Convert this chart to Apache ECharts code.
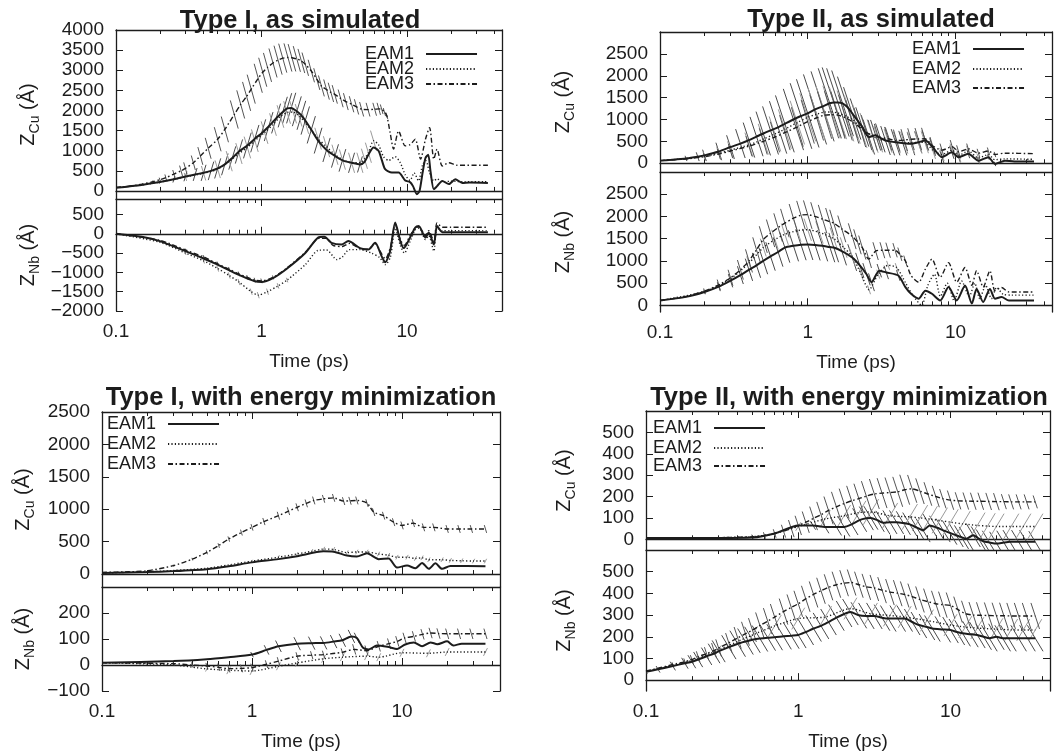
<!DOCTYPE html>
<html><head><meta charset="utf-8">
<script src="https://cdn.jsdelivr.net/npm/echarts@6/dist/echarts.min.js"></script>
<style>html,body{margin:0;background:#fff}#c{width:1057px;height:756px}</style>
</head><body><div id="c"></div>
<script>
const FONT = '"Liberation Sans", Arial, Helvetica, sans-serif';
const seriesNames = ['EAM1', 'EAM2', 'EAM3'];
const timeTickLabels = [0.1, 1, 10];
const timeMinorTicks = [0.2,0.3,0.4,0.5,0.6,0.7,0.8,0.9,2,3,4,5,6,7,8,9,20,30,40];
// Each point: [time (ps), Z (Å), error half-width (Å, optional)]

// ---- Panel 1: Type I, as simulated ----
const p1CuTicks = [0,500,1000,1500,2000,2500,3000,3500,4000];
const p1NbTicks = [-2000,-1500,-1000,-500,0,500];
const p1CuEAM1 = [[0.1,80],[0.15,150],[0.2,220,40],[0.25,290,80],[0.3,360,120],[0.35,410,160],[0.4,450,200],[0.45,500,230],[0.5,560,250],[0.56,660,270],[0.63,820,290],[0.7,980,300],[0.8,1130,320],[0.9,1300,340],[1.0,1430,350],[1.12,1600,360],[1.26,1800,370],[1.4,1960,380],[1.5,2050,380],[1.6,2060,380],[1.75,1980,370],[1.88,1880,360],[2.0,1750,350],[2.2,1520,340],[2.45,1250,320],[2.8,1020,300],[3.2,870,290],[3.6,760,280],[4.16,700,250],[4.75,660,200],[5.1,720],[5.43,900],[5.89,1080],[6.37,1000],[6.7,780],[7.08,540],[7.87,460],[8.76,460],[9.73,260],[10.5,220],[11.0,120],[11.7,-80],[12.2,0],[12.8,450],[13.4,820],[14.0,900],[14.5,500],[15.3,40],[16.1,120],[17.5,250],[19.4,170],[21.5,290],[24,200],[27,210],[36,200]];
const p1CuEAM2 = [[0.1,80],[0.15,150],[0.2,220],[0.3,350,100],[0.4,440,180],[0.5,540,220],[0.6,740,250],[0.7,930,260],[0.8,1080,270],[0.9,1250,280],[1.05,1450,280],[1.2,1650,280],[1.35,1850,280],[1.5,1950,280],[1.65,1960,280],[1.8,1880,280],[2.0,1700,280],[2.45,1300,270],[2.8,1100,260],[3.2,900,250],[3.6,780,250],[4.16,700,250],[4.75,700,250],[5.1,800,250],[5.43,950,250],[5.89,1250,250],[6.37,1150],[6.9,850],[7.5,760],[8.3,850],[9.0,700],[9.73,400],[10.5,260],[11.2,450],[12.0,250],[12.8,650],[13.5,750],[14.3,450],[15.3,250],[16.1,300],[17.5,230],[20,240],[25,230],[36,230]];
const p1CuEAM3 = [[0.1,90],[0.12,110],[0.15,170],[0.18,230,30],[0.2,280,50],[0.22,330,80],[0.25,420,100],[0.28,500,130],[0.3,560,150],[0.34,700,180],[0.38,870,220],[0.43,1060,260],[0.5,1285,300],[0.56,1530,320],[0.65,1900,350],[0.72,2150,350],[0.79,2350,360],[0.85,2530,360],[0.95,2800,360],[1.02,2950,360],[1.1,3070,360],[1.2,3180,360],[1.3,3250,360],[1.4,3300,360],[1.52,3317,350],[1.62,3310,340],[1.75,3280,320],[1.88,3230,300],[2.0,3150,290],[2.2,2980,280],[2.4,2780,270],[2.58,2610,260],[2.8,2520,250],[3.0,2450,240],[3.19,2400,230],[3.5,2300,220],[3.8,2220,210],[4.16,2155,200],[4.5,2090,190],[4.88,2030,180],[5.4,2020,170],[6.0,2030,160],[6.4,2040,150],[6.7,2030,120],[7.0,1960,100],[7.27,1870,80],[7.66,1450],[8.09,1040],[8.76,1490],[9.73,1120],[10.5,1150],[11.4,1285],[12.4,790],[13.4,1285],[14.3,1575],[15.3,790],[16.1,1040],[17.5,620],[19.4,700],[22,640],[36,640]];
const p1NbEAM1 = [[0.1,0],[0.15,-80],[0.2,-190],[0.3,-450],[0.4,-640],[0.5,-800],[0.7,-1065],[0.9,-1230],[1.0,-1250],[1.2,-1150],[1.5,-900],[2.0,-500],[2.45,-100],[2.7,-80],[3.03,-235],[3.55,-280],[3.95,-190],[4.75,-370],[5.43,-410],[6.04,-235],[6.7,-585],[7.08,-740],[7.66,-450],[8.3,290],[9.0,-190],[9.5,-370],[10.5,-100],[11.4,160],[12.05,200],[13.4,-100],[14.1,30],[15.3,-280],[16.1,200],[17.5,40],[20,40],[36,40]];
const p1NbEAM2 = [[0.1,0],[0.2,-220],[0.3,-500,50],[0.4,-700,70],[0.5,-900,80],[0.6,-1080,80],[0.7,-1250,80],[0.85,-1500,80],[0.95,-1590,80],[1.1,-1500,80],[1.3,-1350,70],[1.5,-1200,60],[2.0,-800],[2.45,-430],[2.8,-420],[3.3,-670],[3.6,-600],[4.0,-410],[4.75,-410],[5.7,-500],[6.5,-620],[7.1,-800],[7.7,-600],[8.3,150],[9.0,-300],[9.6,-500],[10.5,-200],[11.4,100],[12.1,150],[13.4,-150],[14.1,-50],[15.3,-450],[16.1,150],[17.5,80],[20,80],[36,80]];
const p1NbEAM3 = [[0.1,0],[0.2,-170],[0.3,-420,40],[0.4,-600,50],[0.5,-780,60],[0.6,-920,60],[0.7,-1040,60],[0.8,-1130,60],[0.9,-1200,60],[1.0,-1220,60],[1.2,-1130,50],[1.5,-880],[2.0,-480],[2.5,-120],[2.8,-120],[3.1,-300],[3.6,-330],[4.0,-250],[4.75,-380],[5.4,-400],[6.0,-250],[6.7,-520],[7.1,-650],[7.7,-350],[8.3,250],[9.0,-150],[9.6,-300],[10.5,-50],[11.4,150],[12.1,180],[13.4,-50],[14.1,80],[15.3,-200],[16.1,280],[17.5,170],[20,170],[36,170]];

// ---- Panel 2: Type II, as simulated ----
const p2CuTicks = [0,500,1000,1500,2000,2500];
const p2NbTicks = [0,500,1000,1500,2000,2500];
const p2CuEAM1 = [[0.1,60],[0.12,80,20],[0.15,110,60],[0.18,150,100],[0.2,180,130],[0.25,270,200],[0.3,370,270],[0.35,450,330],[0.4,530,400],[0.45,610,450],[0.5,680,500],[0.56,750,550],[0.63,820,600],[0.7,900,650],[0.8,1000,700],[0.9,1080,750],[1.0,1140,780],[1.12,1230,800],[1.26,1300,800],[1.41,1370,800],[1.5,1390,800],[1.6,1390,780],[1.72,1370,750],[1.86,1280,700],[2.0,1140,600],[2.17,980,500],[2.34,830,450],[2.59,600,400],[2.88,640,350],[3.1,580,330],[3.36,520,330],[3.6,500,320],[3.93,480,300],[4.4,460,280],[5.0,445,260],[5.6,480,250],[6.25,520,230],[7.0,370,200],[8.1,140,150],[9.45,250,150],[10.5,140,120],[12.2,215,100],[14.3,60,80],[16.7,140,60],[18.5,-15,50],[21.6,60],[25,40],[34,40]];
const p2CuEAM2 = [[0.1,60],[0.15,105,50],[0.2,160,100],[0.25,230,150],[0.3,300,200],[0.4,420,280],[0.5,550,350],[0.6,670,400],[0.7,780,450],[0.85,930,500],[1.0,1050,550],[1.15,1120,580],[1.3,1170,600],[1.45,1170,600],[1.6,1150,600],[1.8,1080,580],[2.0,1000,550],[2.25,850,500],[2.5,700,450],[2.75,620,380],[3.0,550,300],[3.5,510,270],[4.0,480,250],[4.5,470,250],[5.0,470,250],[5.6,475,250],[6.2,480,250],[7.0,300,200],[8.1,200,150],[9.5,300,150],[10.5,180,150],[12.2,280,120],[14.3,120,100],[16.7,200,80],[18.5,80],[21.6,100],[34,90]];
const p2CuEAM3 = [[0.1,60],[0.15,100,40],[0.2,150,80],[0.25,210,120],[0.3,280,160],[0.4,390,230],[0.5,500,300],[0.6,600,350],[0.7,700,400],[0.85,830,450],[1.0,950,500],[1.15,1040,520],[1.3,1100,540],[1.45,1110,540],[1.6,1100,540],[1.8,1040,520],[2.0,950,500],[2.25,820,450],[2.5,700,400],[2.75,640,350],[3.0,600,300],[3.5,560,270],[4.0,520,250],[4.5,530,250],[5.0,550,250],[5.6,555,250],[6.2,560,250],[7.0,400,200],[8.1,300,150],[9.5,380,150],[10.5,260,150],[12.2,330,120],[14.3,230,100],[16.7,280,80],[18.5,200,60],[21.6,230],[34,220]];
const p2NbEAM1 = [[0.1,110],[0.15,190],[0.2,300,50],[0.25,420,100],[0.3,555,150],[0.35,680,200],[0.4,800,250],[0.45,900,280],[0.5,1000,300],[0.56,1100,320],[0.63,1200,330],[0.7,1300,340],[0.8,1340,350],[0.9,1365,350],[1.0,1370,350],[1.12,1360,350],[1.26,1340,350],[1.41,1310,340],[1.5,1300,330],[1.7,1220,320],[2.0,1075,300],[2.25,900,280],[2.5,700,250],[2.7,520,200],[3.05,780,150],[3.4,740,150],[4.1,670,120],[4.58,410],[5.0,260],[5.63,150],[6.25,330],[6.93,260],[7.88,110],[8.97,410],[10.2,110],[11.6,445],[12.9,40],[13.9,370],[15.4,75],[17.1,370],[18.5,150],[20.5,185],[23,110],[34,110]];
const p2NbEAM2 = [[0.1,110],[0.2,310],[0.3,600,100],[0.4,950,150],[0.5,1300,200],[0.6,1480,220],[0.7,1600,240],[0.85,1680,250],[1.0,1700,250],[1.2,1640,250],[1.5,1500,250],[1.75,1300,230],[2.0,1100,200],[2.3,700,150],[2.6,350,100],[3.0,700,100],[3.5,900,100],[4.0,850,100],[4.6,500],[5.2,200],[5.9,0],[6.5,450],[7.2,700],[7.9,200],[8.8,500],[9.8,100],[11,550],[12.4,200],[13.5,500],[14.6,150],[16,450],[17.5,150],[19,400],[21,250],[24,230],[34,230]];
const p2NbEAM3 = [[0.1,110],[0.15,200],[0.2,320,60],[0.25,460,120],[0.3,620,180],[0.35,800,220],[0.4,1000,260],[0.45,1250,280],[0.5,1480,300],[0.56,1620,310],[0.63,1750,320],[0.7,1850,320],[0.8,1960,320],[0.9,2030,320],[1.0,2040,320],[1.12,2000,320],[1.26,1940,320],[1.41,1880,310],[1.5,1850,300],[1.7,1720,300],[2.0,1555,290],[2.17,1430,280],[2.34,1300,270],[2.59,1040,200],[2.88,1220,200],[3.2,1240,180],[3.5,1240,170],[3.9,1240,160],[4.2,1150,150],[4.58,1000,120],[5.0,670],[5.63,520],[6.25,815],[6.93,1040],[7.88,630],[8.97,960],[10.2,520],[11.6,850],[12.9,450],[13.9,780],[15.4,410],[17.1,780],[18.5,330],[20.5,400],[23,300],[34,300]];

// ---- Panel 3: Type I, with energy minimization ----
const p3CuTicks = [0,500,1000,1500,2000,2500];
const p3NbTicks = [-100,0,100,200];
const p3CuEAM1 = [[0.1,15],[0.2,30],[0.3,45],[0.5,75],[0.7,120],[1.0,180],[1.5,230],[2.0,275],[3.0,350],[3.5,345],[4.3,285],[5.0,270],[5.84,320],[6.98,230],[8.14,240],[9.26,100],[10.8,130],[12.3,90],[13.6,170],[15.1,80],[16.7,165],[18.5,80],[21,125],[36,120]];
const p3CuEAM2 = [[0.1,15],[0.2,35],[0.3,55],[0.5,90],[0.7,140],[1.0,200,20],[1.5,260,30],[2.0,310,30],[2.5,350,35],[3.0,385,35],[3.5,380,35],[4.3,330,35],[5.0,340,35],[5.84,340,35],[6.98,310,35],[8.14,290,35],[9.26,260,35],[10.8,260,35],[12.3,240,35],[13.6,250,35],[15.1,220,35],[18.5,220,35],[21,210,35],[25,205,35],[30,200,35],[36,200,35]];
const p3CuEAM3 = [[0.1,25],[0.15,35],[0.2,50],[0.3,130,15],[0.4,230,20],[0.5,335,30],[0.6,440,35],[0.7,540,40],[0.85,640,45],[1.0,720,50],[1.2,810,55],[1.5,900,60],[1.75,970,60],[2.0,1030,60],[2.3,1090,60],[2.58,1135,60],[3.0,1160,60],[3.5,1175,60],[4.08,1125,60],[4.5,1130,60],[5.0,1135,60],[5.84,1095,60],[6.47,955,60],[7.54,900,60],[8.79,800,60],[10,750,60],[11.9,785,60],[13.9,720,60],[16.3,720,60],[20,695,60],[24,695,60],[29,695,60],[36,695,60]];
const p3NbEAM1 = [[0.1,9],[0.3,15],[0.5,22],[0.7,30],[1.0,40,10],[1.25,58,18],[1.5,72,22],[2.0,82,25],[2.5,84,25],[3.0,85,25],[3.5,90,25],[4.0,95,25],[4.6,110,25],[5.0,104,20],[5.5,66],[6.0,60],[6.8,75],[8.0,70],[9.3,62],[10.4,78],[12.0,87],[13.6,72],[15.5,87],[17.2,80],[20,91],[22,75],[25,82],[36,82]];
const p3NbEAM2 = [[0.1,9],[0.3,0],[0.5,-15,10],[0.7,-20,15],[1.0,-23,15],[1.5,-5,15],[2.0,8,15],[3.0,24,15],[4.0,30,15],[5.8,34,15],[7.0,30,15],[10,47,15],[15,45,15],[20,50,15],[36,50,15]];
const p3NbEAM3 = [[0.1,9],[0.3,5,8],[0.4,0,10],[0.5,-4,12],[0.6,-9,14],[0.7,-14,15],[0.85,-13,15],[1.0,-10,15],[1.25,3,15],[1.5,15,15],[2.0,34,15],[2.5,38,15],[3.0,40,15],[4.0,49,15],[4.8,60,20],[5.8,55,20],[7.0,72,20],[8.2,82,20],[9.3,91,20],[10.4,104,20],[12.0,110,20],[13.7,118,20],[15.5,123,20],[17.5,121,20],[20,120,20],[24,120,20],[29,120,20],[36,120,20]];

// ---- Panel 4: Type II, with energy minimization ----
const p4CuTicks = [0,100,200,300,400,500];
const p4NbTicks = [0,100,200,300,400,500];
const p4CuEAM1 = [[0.1,6],[0.3,6],[0.5,8],[0.7,27],[1.0,65],[1.25,65,20],[1.5,58,30],[1.78,58,40],[2.0,58,45],[2.24,70,50],[2.53,90,55],[2.8,98,55],[3.0,100,55],[3.3,90,55],[3.6,78,55],[4.0,80,55],[4.42,80,55],[4.9,76,55],[5.4,70,55],[6.0,55,55],[6.6,42,55],[7.31,65,55],[8.1,55,55],[8.94,42,55],[9.9,30,55],[10.9,19,55],[11.8,10,55],[12.7,3,55],[14.1,19,55],[15.2,5,55],[16.4,-9,55],[18,-15,55],[20.1,-20,55],[22.4,-15,55],[24.6,-12,55],[28,-12,55],[31.6,-12,55],[36,-12,50]];
const p4CuEAM2 = [[0.1,8],[0.3,8],[0.5,12],[0.7,27],[1.0,60,20],[1.5,95,40],[2.0,110,50],[2.5,125,55],[3.0,128,60],[4.0,110,60],[5.4,105,60],[6.3,100,60],[7.3,95,60],[8.5,88,60],[10,80,60],[12,72,60],[15,65,60],[17.5,62,60],[20,60,60],[25,60,60],[30,60,60],[36,60,60]];
const p4CuEAM3 = [[0.1,8],[0.3,8],[0.5,12,10],[0.6,18,15],[0.7,27,20],[0.8,38,30],[0.9,50,40],[1.0,65,45],[1.12,80,50],[1.26,98,55],[1.41,115,60],[1.58,135,65],[1.78,152,70],[2.0,167,70],[2.24,180,70],[2.5,190,70],[2.8,202,70],[3.16,212,70],[3.55,216,70],[4.0,219,70],[4.5,222,70],[5.0,232,70],[5.6,236,65],[6.3,225,60],[7.1,212,55],[8.0,200,50],[8.9,190,45],[10,183,45],[11.2,180,40],[12.6,179,40],[14.1,178,40],[15.8,178,40],[17.8,177,40],[20,176,40],[22.4,176,35],[25,175,35],[28,175,35],[31.6,175,35],[36,175,30]];
const p4NbEAM1 = [[0.1,39,10],[0.12,50,15],[0.15,65,20],[0.18,78,25],[0.2,85,30],[0.22,95,35],[0.25,110,40],[0.28,123,45],[0.3,133,50],[0.35,152,55],[0.4,168,60],[0.45,178,60],[0.5,186,60],[0.56,192,60],[0.63,196,60],[0.7,198,60],[0.8,202,60],[0.9,205,60],[1.0,208,60],[1.12,222,60],[1.26,238,60],[1.41,250,60],[1.58,268,60],[1.78,288,60],[2.0,305,60],[2.2,314,60],[2.5,299,60],[2.8,296,60],[3.16,296,60],[3.55,288,60],[3.9,284,60],[4.5,284,60],[5.0,284,60],[5.6,268,60],[6.2,254,60],[7.0,245,60],[7.6,238,60],[8.9,234,60],[10,231,60],[11,222,60],[12,216,60],[13.5,212,60],[15,208,60],[16.5,200,60],[18,193,60],[20,200,60],[22,193,60],[24,193,60],[28,193,60],[32,193,60],[36,193,60]];
const p4NbEAM2 = [[0.1,40],[0.2,90],[0.3,140,20],[0.5,208,40],[0.7,250,50],[1.0,284,50],[1.5,291,50],[2.2,330,50],[3.0,306,50],[4.0,298,50],[5.0,291,50],[7.0,275,50],[10,254,50],[12.5,245,50],[15,240,50],[20,235,50],[25,232,50],[30,231,50],[36,231,50]];
const p4NbEAM3 = [[0.1,42],[0.12,55],[0.15,72,10],[0.18,85,15],[0.2,95,20],[0.22,108,25],[0.25,122,30],[0.28,136,35],[0.3,148,40],[0.35,172,45],[0.4,195,50],[0.45,214,55],[0.5,231,55],[0.56,252,60],[0.63,272,60],[0.7,291,60],[0.8,316,60],[0.9,335,60],[1.0,352,60],[1.12,375,60],[1.26,395,60],[1.41,412,60],[1.58,428,60],[1.78,440,60],[2.0,447,60],[2.24,450,60],[2.5,440,60],[2.8,430,60],[3.16,425,60],[3.55,415,60],[4.0,406,60],[4.5,401,60],[5.0,395,60],[5.6,385,60],[6.3,372,60],[7.1,362,60],[8.0,352,60],[8.9,348,60],[10,344,60],[11.2,325,60],[12.6,306,60],[14.1,300,60],[15.8,299,60],[17.8,298,60],[20,297,60],[22.4,297,60],[25,296,60],[28,296,60],[31.6,296,60],[36,296,60]];

const panels = [
  {title:'Type I, as simulated', tx:295, ty:3, left:116, width:386, cuTop:30, cuH:169, nbH:112,
   cuRange:[-200,4000], nbRange:[-2000,900], cuTicks:p1CuTicks, nbTicks:p1NbTicks, nameGap:74,
   legendLeft:365, legendTops:[45,60,75], slant:[-0.3,0.3,0.28], cu:[p1CuEAM1,p1CuEAM2,p1CuEAM3], nb:[p1NbEAM1,p1NbEAM2,p1NbEAM3]},
  {title:'Type II, as simulated', tx:866, ty:2, left:660, width:392, cuTop:32, cuH:140, nbH:140,
   cuRange:[-200,3000], nbRange:[-150,3000], cuTicks:p2CuTicks, nbTicks:p2NbTicks, nameGap:83,
   legendLeft:912, legendTops:[40,60,79], slant:[0.33,0.33,0.3], cu:[p2CuEAM1,p2CuEAM2,p2CuEAM3], nb:[p2NbEAM1,p2NbEAM2,p2NbEAM3]},
  {title:'Type I, with energy minimization', tx:296, ty:380, left:102, width:398, cuTop:412, cuH:175, nbH:104,
   cuRange:[-200,2500], nbRange:[-100,300], cuTicks:p3CuTicks, nbTicks:p3NbTicks, nameGap:65,
   legendLeft:107, legendTops:[415,435,455], slant:[0.5,-0.5,0.3], cu:[p3CuEAM1,p3CuEAM2,p3CuEAM3], nb:[p3NbEAM1,p3NbEAM2,p3NbEAM3]},
  {title:'Type II, with energy minimization', tx:844, ty:380, left:646, width:404, cuTop:411, cuH:139, nbH:141,
   cuRange:[-50,600], nbRange:[-50,600], cuTicks:p4CuTicks, nbTicks:p4NbTicks, nameGap:68,
   legendLeft:653, legendTops:[419,439,457], slant:[0.6,-0.6,0.33], cu:[p4CuEAM1,p4CuEAM2,p4CuEAM3], nb:[p4NbEAM1,p4NbEAM2,p4NbEAM3]}
];

const INK = '#1c1c1c';
const hatchColors = ['#4a4a4a', '#9a9a9a', '#555555'];
const lineStyles = [
  {color:INK, width:2, type:'solid'},
  {color:INK, width:1.4, type:[1.2,2.2]},
  {color:INK, width:1.4, type:[5,2.5,1.5,2.5]}
];
const fmtY = v => (v < 0 ? '\u2212' + (-v) : String(v));
const nameRich = {
  z: {fontSize:20, fontFamily:FONT, color:INK, lineHeight:28},
  s: {fontSize:14, fontFamily:FONT, color:INK, lineHeight:14, verticalAlign:'bottom'}
};

function hatchRenderer(slant, color) {
  return function (params, api) {
    const e = api.value(2);
    if (!(e > 0)) return null;
    const t = api.value(0), y = api.value(1);
    const a = api.coord([t, y + e]);
    const b = api.coord([t, y - e]);
    const dx = (b[1] - a[1]) * slant / 2;
    return {type:'line', shape:{x1:a[0] - dx, y1:a[1], x2:b[0] + dx, y2:b[1]},
      style:{stroke:color, lineWidth:1}};
  };
}

const grid = [], xAxis = [], yAxis = [], series = [], title = [], legend = [];
panels.forEach((p, pi) => {
  title.push({text:p.title, left:p.tx, top:p.ty, textAlign:'center',
    textStyle:{fontSize:25.5, fontWeight:'bold', fontFamily:FONT, color:INK}});
  seriesNames.forEach((nm, k) => {
    legend.push({data:[nm], orient:'vertical', left:p.legendLeft, top:p.legendTops[k], align:'right',
      itemWidth:51, itemHeight:14, selectedMode:false, padding:0,
      itemStyle:{color:'rgba(0,0,0,0)', borderColor:'rgba(0,0,0,0)', borderWidth:0},
      textStyle:{fontSize:18, fontFamily:FONT, color:INK, padding:[0,7,0,0]}});
  });
  const subs = [
    {top:p.cuTop, h:p.cuH, range:p.cuRange, ticks:p.cuTicks, label:'Cu', data:p.cu, nb:false},
    {top:p.cuTop + p.cuH, h:p.nbH, range:p.nbRange, ticks:p.nbTicks, label:'Nb', data:p.nb, nb:true}
  ];
  subs.forEach(s => {
    const g = grid.length;
    grid.push({left:p.left, top:s.top, width:p.width, height:s.h, show:false});
    const axLine = {show:true, lineStyle:{color:INK, width:1.3}};
    const baseX = {type:'log', logBase:10, gridIndex:g, min:0.1, max:45, splitLine:{show:false}, silent:true};
    xAxis.push(Object.assign({}, baseX, {position:'bottom', axisLine:axLine,
      axisTick:{inside:true, length:7, customValues:timeTickLabels, lineStyle:{color:INK}},
      axisLabel:{show:s.nb, customValues:timeTickLabels, fontSize:19, fontFamily:FONT, color:INK, margin:11, formatter:v=>String(v)},
      name:s.nb ? 'Time (ps)' : '', nameLocation:'middle', nameGap:41,
      nameTextStyle:{fontSize:19, fontFamily:FONT, color:INK}}));
    xAxis.push(Object.assign({}, baseX, {position:'bottom', axisLine:{show:false},
      axisTick:{inside:true, length:4, customValues:timeMinorTicks, lineStyle:{color:INK}}, axisLabel:{show:false}}));
    xAxis.push(Object.assign({}, baseX, {position:'top', axisLine:axLine,
      axisTick:{inside:true, length:7, customValues:timeTickLabels, lineStyle:{color:INK}}, axisLabel:{show:false}}));
    xAxis.push(Object.assign({}, baseX, {position:'top', axisLine:{show:false},
      axisTick:{inside:true, length:4, customValues:timeMinorTicks, lineStyle:{color:INK}}, axisLabel:{show:false}}));
    const baseY = {type:'value', gridIndex:g, min:s.range[0], max:s.range[1], splitLine:{show:false}, silent:true};
    yAxis.push(Object.assign({}, baseY, {position:'left', axisLine:axLine,
      axisTick:{inside:true, length:7, customValues:s.ticks, lineStyle:{color:INK}},
      axisLabel:{customValues:s.ticks, fontSize:19, fontFamily:FONT, color:INK, margin:12, formatter:fmtY},
      name:'{z|Z}{s|' + s.label + '}{z| (\u00C5)}', nameLocation:'middle', nameRotate:90, nameGap:p.nameGap,
      nameTextStyle:{rich:nameRich}}));
    yAxis.push(Object.assign({}, baseY, {position:'right', axisLine:axLine,
      axisTick:{inside:true, length:7, customValues:s.ticks, lineStyle:{color:INK}}, axisLabel:{show:false}}));
    s.data.forEach((d, k) => {
      series.push({type:'custom', name:seriesNames[k] + ' error', xAxisIndex:4*g, yAxisIndex:2*g,
        data:d.map(r => [r[0], r[1], r.length > 2 ? r[2] : 0]), dimensions:['t','z','e'],
        encode:{x:0, y:1}, renderItem:hatchRenderer(p.slant[k], hatchColors[k]), clip:true, silent:true, z:1});
      series.push({type:'line', name:seriesNames[k], xAxisIndex:4*g, yAxisIndex:2*g,
        data:d.map(r => [r[0], r[1]]),
        symbol:'none', showSymbol:false, smooth:0.25, lineStyle:lineStyles[k], itemStyle:{color:INK},
        silent:true, clip:true, z:5 - k});
    });
  });
});

const chart = echarts.init(document.getElementById('c'), null, {renderer:'canvas'});
chart.setOption({backgroundColor:'#fff', animation:false, title, legend, grid, xAxis, yAxis, series});
</script></body></html>
